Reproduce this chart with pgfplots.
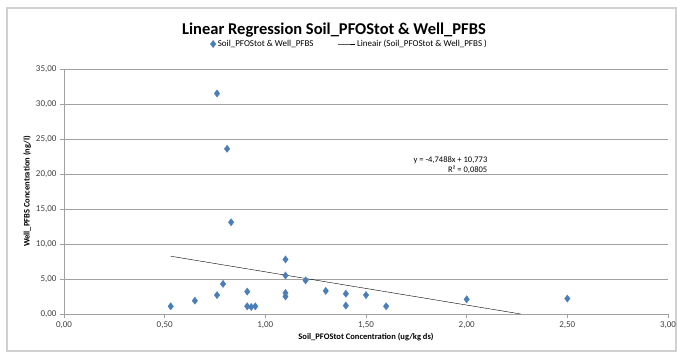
\documentclass[border=0pt]{standalone}
\usepackage{pgfplots}
\pgfplotsset{compat=1.18}
\usepackage{fontspec}
\setmainfont{Carlito}
\definecolor{dotblue}{RGB}{74,126,187}
\definecolor{gridgray}{RGB}{160,160,160}
\begin{document}
\begin{tikzpicture}
\useasboundingbox (0pt,0pt) rectangle (677pt,352pt);
\draw[black!18, line width=1.2pt] (7pt,1pt) rectangle (676pt,344pt);
\node[font=\bfseries\fontsize{16.5}{18}\selectfont] at (334pt,322pt) {Linear Regression Soil\_PFOStot \& Well\_PFBS};
\begin{axis}[
    at={(64pt,38pt)}, anchor=south west,
    scale only axis,
    width=604pt, height=245pt,
    xmin=0, xmax=3, ymin=0, ymax=35,
    xtick={0,0.5,...,3}, ytick={0,5,...,35},
    axis x line*=bottom, axis y line*=left,
    axis line style={gridgray, -},
    tick style={gridgray, thin},
    tick align=outside,
    major tick length=4pt,
    ymajorgrids=true,
    grid style={gridgray, thin},
    /pgf/number format/.cd, fixed, fixed zerofill, precision=2, use comma, assume math mode=true,
    /pgfplots/.cd,
    ticklabel style={font=\fontsize{9}{10}\selectfont, text=black!75},
    xlabel={Soil\_PFOStot Concentration (ug/kg ds)},
    ylabel={Well\_PFBS Concentration (ng/l)},
    label style={font=\bfseries\fontsize{8.5}{10}\selectfont},
    xlabel style={yshift=2pt},
    ylabel style={yshift=-2pt},
    legend columns=2,
    legend style={at={(0.473,1.102)}, anchor=center, draw=none, fill=none,
        font=\fontsize{9}{10}\selectfont, /tikz/every even column/.append style={column sep=22pt}},
    legend cell align=left,
]
\addplot[only marks, mark=diamond*, mark size=3.6pt, color=dotblue] coordinates {
    (0.53,1.1) (0.65,1.9) (0.76,2.7) (0.79,4.3) (0.76,31.5) (0.81,23.6)
    (0.83,13.1) (0.91,3.2) (0.91,1.1) (0.93,1.0) (0.95,1.1)
    (1.10,7.8) (1.10,5.5) (1.10,3.0) (1.10,2.5) (1.20,4.8) (1.30,3.3)
    (1.40,2.9) (1.40,1.2) (1.50,2.7) (1.60,1.1) (2.00,2.1) (2.50,2.2)
};
\addlegendentry{Soil\_PFOStot \& Well\_PFBS}
\addplot[black, thin] coordinates {(0.53,8.256) (2.2686,0)};
\addlegendentry{Lineair (Soil\_PFOStot \& Well\_PFBS )}
\node[anchor=north east, align=right, font=\fontsize{8.5}{10.5}\selectfont] at (axis cs:2.12,23.0)
    {y = -4,7488x + 10,773\\R² = 0,0805};
\end{axis}
\end{tikzpicture}
\end{document}
